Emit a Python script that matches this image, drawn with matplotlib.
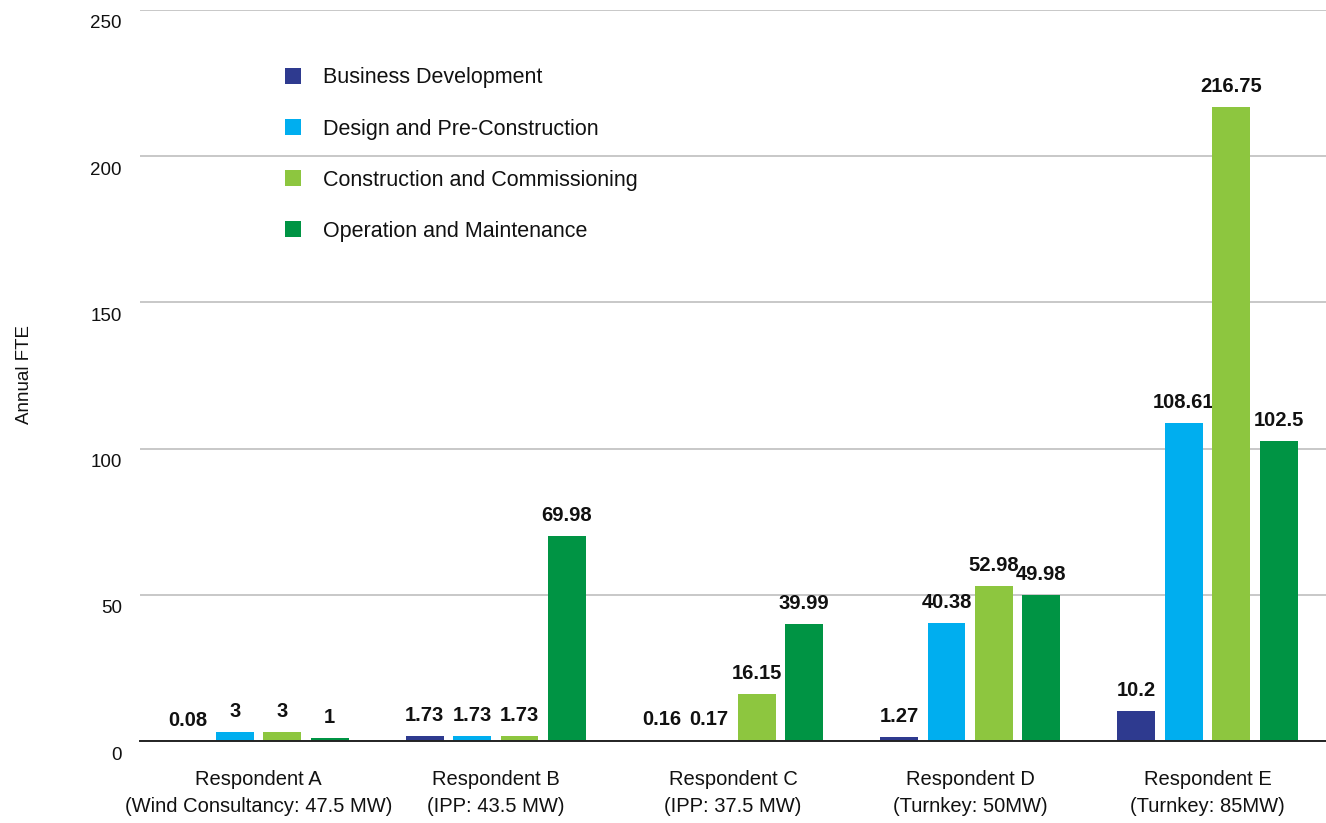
import numpy as np
import matplotlib
matplotlib.use('Agg')
import matplotlib.pyplot as plt
import matplotlib.transforms as mtransforms

plt.rcParams['font.family'] = ['Liberation Sans', 'DejaVu Sans']

# annual FTE per respondent and project phase
respondents = ['Respondent A\n(Wind Consultancy: 47.5 MW)',
               'Respondent B\n(IPP: 43.5 MW)',
               'Respondent C\n(IPP: 37.5 MW)',
               'Respondent D\n(Turnkey: 50MW)',
               'Respondent E\n(Turnkey: 85MW)']
phases = ['Business Development', 'Design and Pre-Construction',
          'Construction and Commissioning', 'Operation and Maintenance']
business_dev = [0.08, 1.73, 0.16, 1.27, 10.2]
design_precon = [3, 1.73, 0.17, 40.38, 108.61]
construction = [3, 1.73, 16.15, 52.98, 216.75]
operation = [1, 69.98, 39.99, 49.98, 102.5]
colors = ['#2e3a8f', '#00aeef', '#8dc63f', '#009444']

fig = plt.figure(figsize=(13.26, 8.23), dpi=100)
ax = fig.add_axes([140 / 1326, 82 / 823, 1186 / 1326, 731 / 823])

x = np.arange(len(respondents))
width = 0.16
step = 0.2
series = [business_dev, design_precon, construction, operation]
for i, (vals, name, col) in enumerate(zip(series, phases, colors)):
    pos = x + (i - 1.5) * step
    bars = ax.bar(pos, vals, width, color=col, label=name, zorder=3)
    for b, v in zip(bars, vals):
        ax.annotate('{:g}'.format(v), (b.get_x() + b.get_width() / 2, v),
                    xytext=(0, 8), textcoords='offset points',
                    ha='center', va='bottom', fontsize=14.5,
                    fontweight='bold', color='#111111')

ax.set_xlim(-0.5, 4.5)
ax.set_ylim(0, 250)
ax.set_yticks([0, 50, 100, 150, 200, 250])
ax.yaxis.grid(True, color='#c8c8c8', linewidth=1.4, zorder=0)
ax.set_axisbelow(True)

for s in ['top', 'right', 'left']:
    ax.spines[s].set_visible(False)
ax.spines['bottom'].set_color('#222222')
ax.spines['bottom'].set_linewidth(1.4)
ax.spines['bottom'].set_zorder(4)

ax.set_xticks(x)
ax.set_xticklabels(respondents, fontsize=14.5, color='#111111', linespacing=1.55)
ax.tick_params(axis='x', length=0, pad=21)
ax.tick_params(axis='y', length=0, pad=13, labelsize=13.5, labelcolor='#111111')

# push y tick labels a little below their grid lines
shift = mtransforms.ScaledTranslation(0, -12 / 100, fig.dpi_scale_trans)
for lab in ax.get_yticklabels():
    lab.set_transform(lab.get_transform() + shift)

fig.text(25 / 1326, 1 - 375 / 823, 'Annual FTE', rotation=90,
         ha='center', va='center', fontsize=13.5, color='#111111')

ax.legend(loc='upper left', bbox_to_anchor=(0.106, 0.948), frameon=False,
          fontsize=15.5, handlelength=0.75, handleheight=0.75,
          handletextpad=1.0, labelspacing=1.4, labelcolor='#111111')

fig.savefig('out.png', dpi=100)
